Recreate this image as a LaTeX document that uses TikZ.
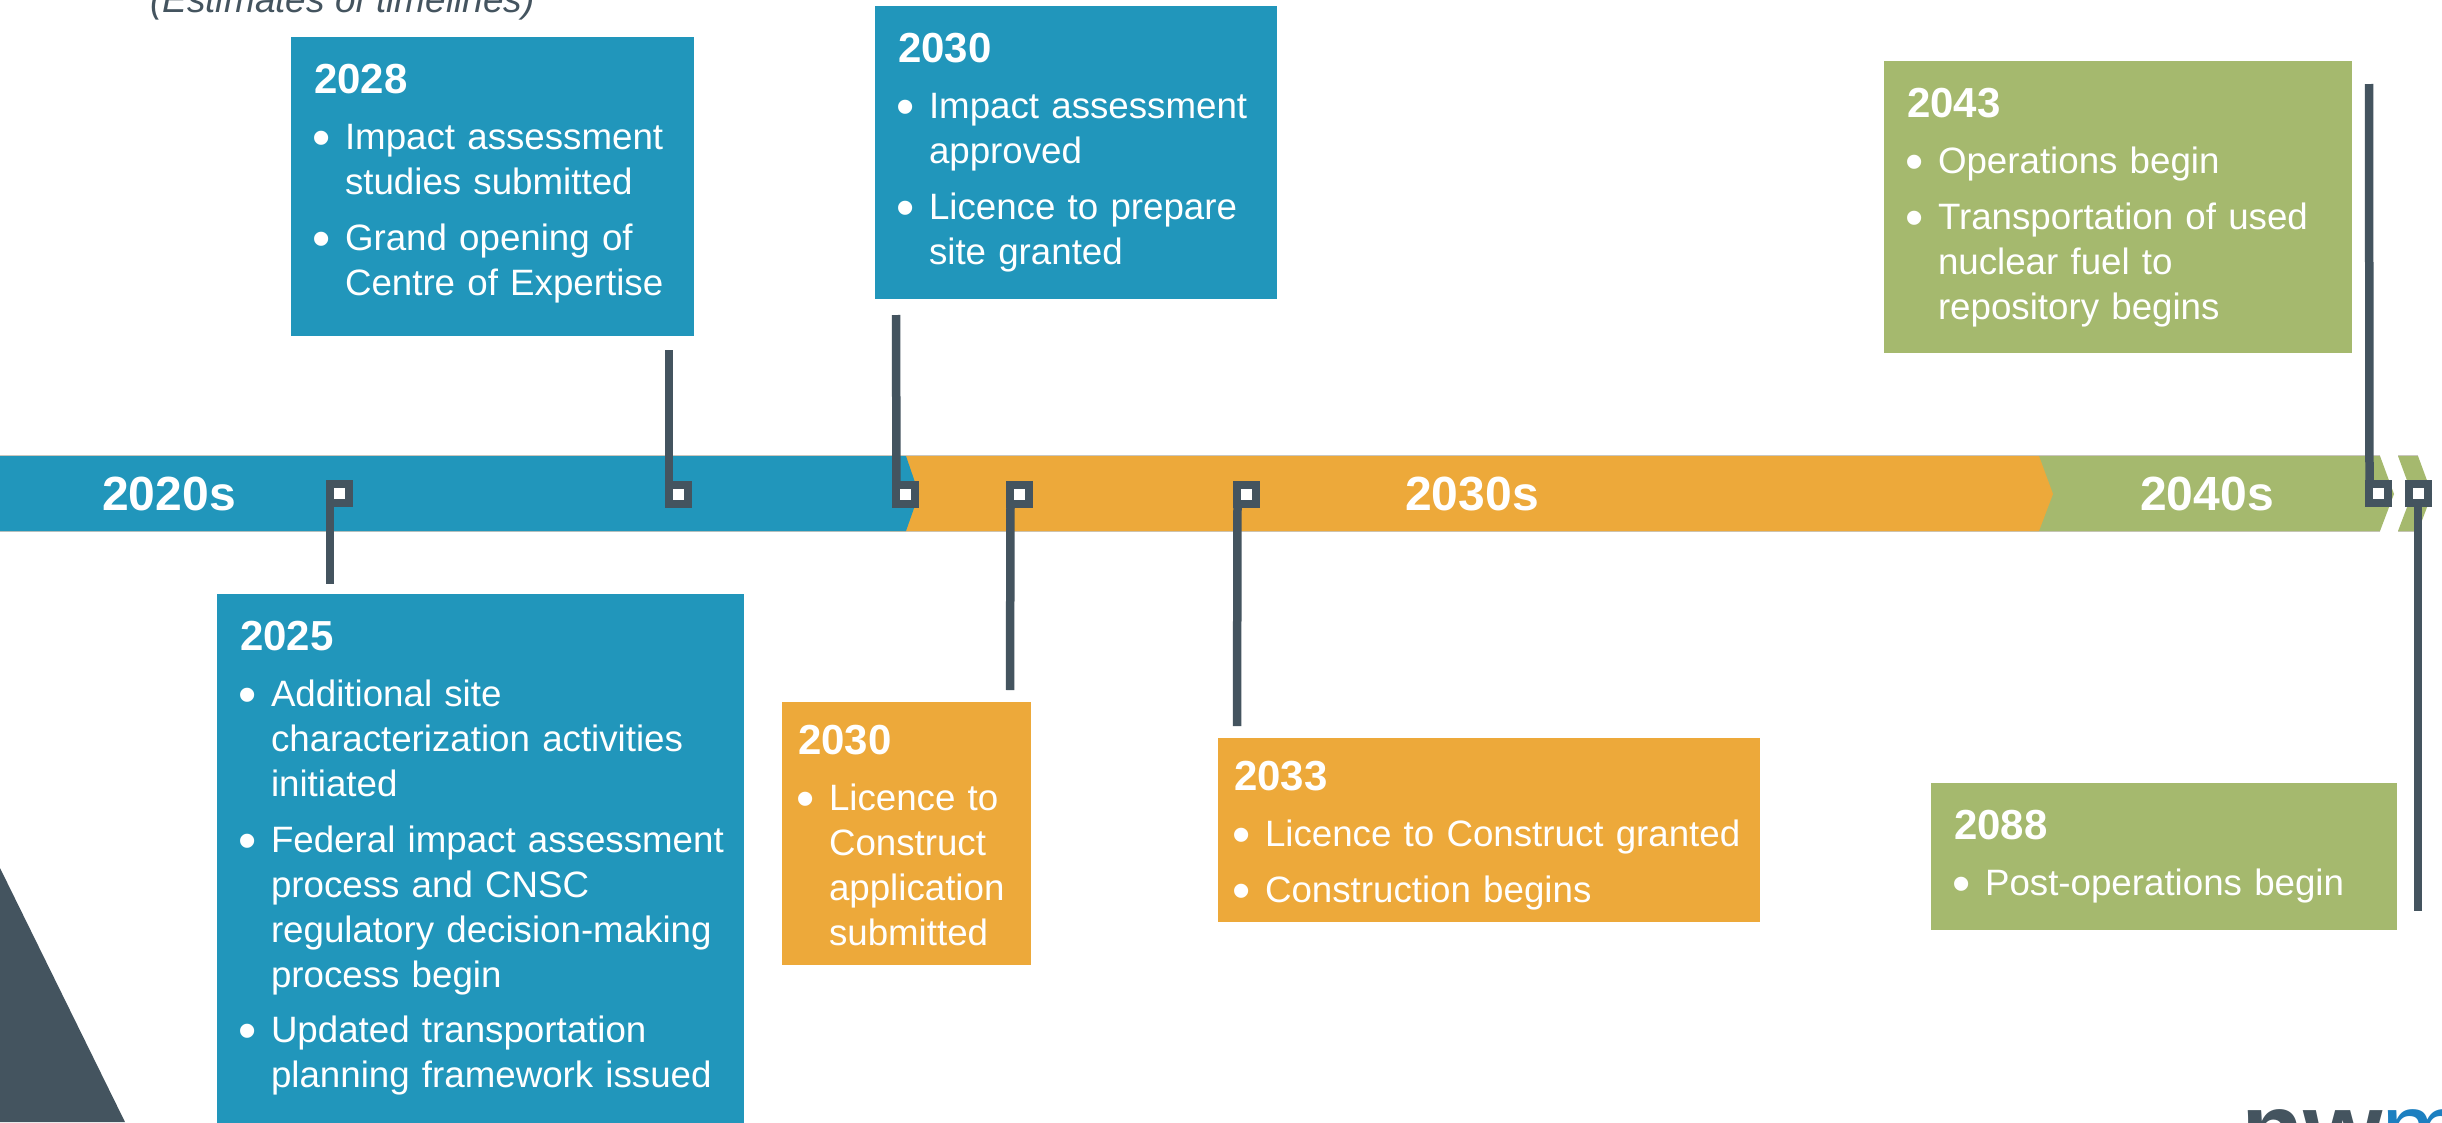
\documentclass[tikz,border=0pt]{standalone}
\usepackage{fontspec}
\setmainfont{Liberation Sans}
\definecolor{tblue}{HTML}{2196BB}
\definecolor{torange}{HTML}{EDA93A}
\definecolor{tgreen}{HTML}{A5B96E}
\definecolor{tdark}{HTML}{44545F}
\definecolor{tedge}{HTML}{C9C6BE}
\definecolor{tlogo}{HTML}{1C7FC0}
\newcommand\yr[1]{\noindent{\fontsize{42}{48}\selectfont\bfseries #1\par}\vspace{11pt}}
\newcommand\bul{\hspace{-2pt}\raisebox{-6pt}{\fontsize{52}{45}\selectfont •}}
\newcommand\itm[1]{\hangindent=31pt\hangafter=1\noindent\makebox[31pt][l]{\bul}#1\par\vspace{10.5pt}}
\tikzset{
  x=1pt,y=-1pt,
  panel/.style={anchor=north west,inner sep=0pt,outer sep=0pt,draw=none},
  paneltext/.style={anchor=north west,inner sep=0pt,outer sep=0pt,text=white,text width=#1,align=left,font=\fontsize{36.7}{45}\selectfont},
  marker/.style={draw=tdark,fill=white,line width=8pt,minimum size=19pt,inner sep=0pt,outer sep=0pt},
  stem/.style={draw=tdark,line width=8.5pt},
  decade/.style={text=white,font=\fontsize{48}{52}\selectfont\bfseries,inner sep=0pt},
  edge/.style={draw=tedge,line width=1.5pt}
}
\begin{document}
\begin{tikzpicture}
\useasboundingbox (0,0) rectangle (2442,1122);
\clip (0,0) rectangle (2442,1122);
\fill[white] (0,0) rectangle (2442,1122);
% subtitle and corner shapes
\node[anchor=base west,inner sep=0pt,text=tdark,font=\fontsize{37}{45}\selectfont\itshape] (subtitle) at (150,12) {(Estimates of timelines)};
\fill[tdark] (0,868) -- (125,1122) -- (0,1122) -- cycle;
\node[anchor=base west,inner sep=0pt,text=tdark,font=\fontsize{102}{110}\selectfont\bfseries] (logoa) at (2241,1164) {nw};
\node[anchor=base west,inner sep=0pt,text=tlogo,font=\fontsize{102}{110}\selectfont] (logob) at (2381,1164) {m};
% band
\draw[edge] (0,455.5) -- (2380,455.5) (2398,455.5) -- (2418,455.5);
\draw[edge] (0,531.5) -- (2380,531.5) (2398,531.5) -- (2418,531.5);
\fill[tgreen] (2030,456) -- (2380,456) -- (2394,494) -- (2380,531) -- (2030,531) -- cycle;
\fill[tgreen] (2398,456) -- (2418,456) -- (2432,494) -- (2418,531) -- (2398,531) -- (2412,494) -- cycle;
\fill[torange] (890,456) -- (2039,456) -- (2053,494) -- (2039,531) -- (890,531) -- cycle;
\fill[tblue] (0,456) -- (906,456) -- (919,494) -- (906,531) -- (0,531) -- cycle;
\node[decade] (d20) at (169,494) {2020s};
\node[decade] (d30) at (1472,494) {2030s};
\node[decade] (d40) at (2207,494) {2040s};
% panels
\node[panel,fill=tblue,minimum width=403pt,minimum height=299pt] (p28) at (291,37) {};
\node[paneltext=380pt] (t28) at ([xshift=23pt,yshift=-27.5pt]p28.north west) {\yr{2028}\itm{Impact assessment\newline studies submitted}\itm{Grand opening of\newline Centre of Expertise}};
\node[panel,fill=tblue,minimum width=402pt,minimum height=293pt] (p30a) at (875,6) {};
\node[paneltext=380pt] (t30a) at ([xshift=23pt,yshift=-27.5pt]p30a.north west) {\yr{2030}\itm{Impact assessment\newline approved}\itm{Licence to prepare\newline site granted}};
\node[panel,fill=tgreen,minimum width=468pt,minimum height=292pt] (p43) at (1884,61) {};
\node[paneltext=440pt] (t43) at ([xshift=23pt,yshift=-27.5pt]p43.north west) {\yr{2043}\itm{Operations begin}\itm{Transportation of used\newline nuclear fuel to\newline repository begins}};
\node[panel,fill=tblue,minimum width=527pt,minimum height=540pt] (p25) at (217,594) {};
\node[paneltext=500pt] (t25) at ([xshift=23pt,yshift=-27.5pt]p25.north west) {\yr{2025}\itm{Additional site\newline characterization activities\newline initiated}\itm{Federal impact assessment\newline process and CNSC\newline regulatory decision-making\newline process begin}\itm{Updated transportation\newline planning framework issued}};
\node[panel,fill=torange,minimum width=249pt,minimum height=263pt] (p30b) at (782,702) {};
\node[paneltext=230pt] (t30b) at ([xshift=16pt,yshift=-23.5pt]p30b.north west) {\yr{2030}\itm{Licence to\newline Construct\newline application\newline submitted}};
\node[panel,fill=torange,minimum width=542pt,minimum height=184pt] (p33) at (1218,738) {};
\node[paneltext=520pt] (t33) at ([xshift=16pt,yshift=-23.5pt]p33.north west) {\yr{2033}\itm{Licence to Construct granted}\itm{Construction begins}};
\node[panel,fill=tgreen,minimum width=466pt,minimum height=147pt] (p88) at (1931,783) {};
\node[paneltext=440pt] (t88) at ([xshift=23pt,yshift=-27.5pt]p88.north west) {\yr{2088}\itm{Post-operations begin}};
% free ends of stems
\coordinate (e25) at (330,584);
\coordinate (e28) at (669,350);
\coordinate (e30a) at (896,315);
\coordinate (e30b) at (1010,690);
\coordinate (e33) at (1237,726);
\coordinate (e43) at (2369,84);
\coordinate (e88) at (2418,911);
% markers
\node[marker] (m25) at (339,493.5) {};
\node[marker] (m28) at (678,494.5) {};
\node[marker] (m30a) at (905.5,494.5) {};
\node[marker] (m30b) at (1019.5,494.5) {};
\node[marker] (m33) at (1246.5,494.5) {};
\node[marker] (m43) at (2378.5,493.5) {};
\node[marker] (m88) at (2418,493.5) {};
% stems
\draw[stem] ([xshift=0.5pt]m25.south west) -- (e25);
\draw[stem] ([xshift=0.5pt]m28.north west) -- (e28);
\draw[stem] ([xshift=0.5pt]m30a.north west) -- (e30a);
\draw[stem] ([xshift=0.5pt]m30b.south west) -- (e30b);
\draw[stem] ([xshift=0.5pt]m33.south west) -- (e33);
\draw[stem] ([xshift=0.5pt]m43.north west) -- (e43);
\draw[stem] (m88.south) -- (e88);
\end{tikzpicture}
\end{document}
